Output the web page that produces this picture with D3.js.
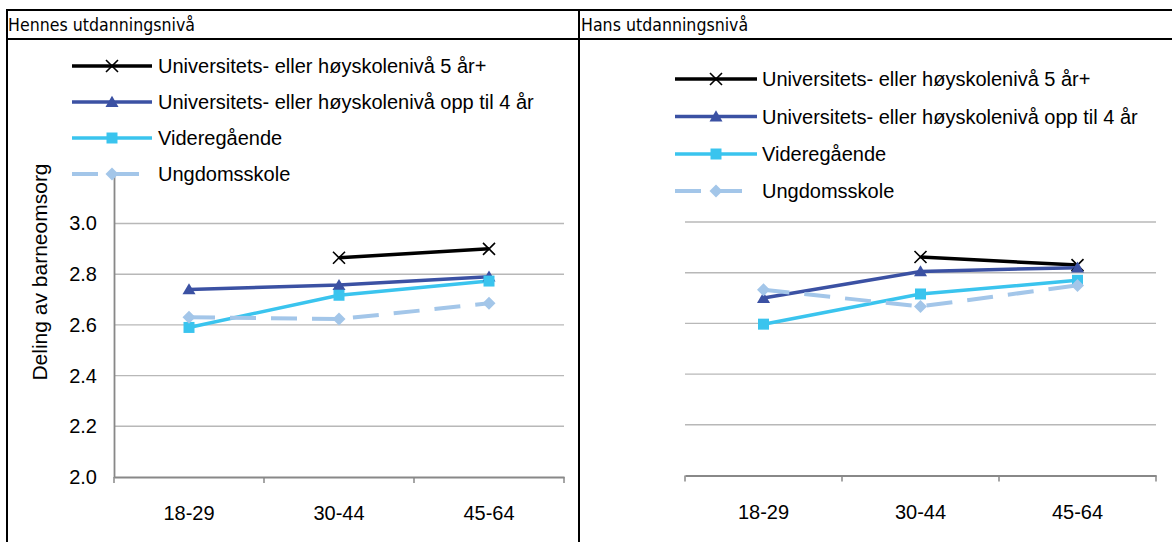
<!DOCTYPE html>
<html><head><meta charset="utf-8">
<script src="https://cdn.jsdelivr.net/npm/d3@7"></script>
<style>body{margin:0;background:#fff}svg{display:block}</style>
</head><body>
<script>
const categories = ["18-29", "30-44", "45-64"];
const seriesNames = [
  "Universitets- eller høyskolenivå 5 år+",
  "Universitets- eller høyskolenivå opp til 4 år",
  "Videregående",
  "Ungdomsskole"
];
const panelTitles = ["Hennes utdanningsnivå", "Hans utdanningsnivå"];
const yTitle = "Deling av barneomsorg";
const yTickValues = [2.0, 2.2, 2.4, 2.6, 2.8, 3.0];

// Hennes utdanningsnivå
const hers5 = [null, 2.865, 2.90];
const hers4 = [2.74, 2.757, 2.79];
const hersVgs = [2.59, 2.717, 2.773];
const hersUng = [2.63, 2.623, 2.685];
// Hans utdanningsnivå
const his5 = [null, 2.862, 2.83];
const his4 = [2.70, 2.805, 2.82];
const hisVgs = [2.597, 2.716, 2.77];
const hisUng = [2.733, 2.667, 2.75];

const colors = ["#000000", "#3B51A3", "#3AC4EE", "#A3C6E9"];
const markers = ["x", "triangle", "square", "diamond"];
const dashes = [null, null, null, "26,15"];

const W = 1172, H = 542;
const svg = d3.select("body").append("svg").attr("width", W).attr("height", H);

// table borders
const border = svg.append("g").attr("stroke", "#000").attr("stroke-width", 2);
border.append("line").attr("x1", 6).attr("x2", W).attr("y1", 10).attr("y2", 10);
border.append("line").attr("x1", 6).attr("x2", W).attr("y1", 39).attr("y2", 39);
border.append("line").attr("x1", 7).attr("x2", 7).attr("y1", 9).attr("y2", H);
border.append("line").attr("x1", 579).attr("x2", 579).attr("y1", 9).attr("y2", H);

const t1 = svg.append("text").attr("x", 8).attr("y", 31).text(panelTitles[0])
  .attr("font-family", "DejaVu Sans").attr("font-size", 17).attr("fill", "#000");
const t2 = svg.append("text").attr("x", 581).attr("y", 31).text(panelTitles[1])
  .attr("font-family", "DejaVu Sans").attr("font-size", 17).attr("fill", "#000");
const n1 = t1.node().getComputedTextLength();
const n2 = t2.node().getComputedTextLength();
const squeeze = 187 / n1;
t1.attr("textLength", n1 * squeeze).attr("lengthAdjust", "spacingAndGlyphs");
t2.attr("textLength", n2 * squeeze).attr("lengthAdjust", "spacingAndGlyphs");

function markerPath(type, s) {
  const h = s / 2;
  if (type === "triangle") return `M0,${-h*0.95}L${h},${h*0.75}L${-h},${h*0.75}Z`;
  if (type === "square") return `M${-h},${-h}H${h}V${h}H${-h}Z`;
  if (type === "diamond") return `M0,${-h}L${h},0L0,${h}L${-h},0Z`;
  return `M${-h},${-h}L${h},${h}M${h},${-h}L${-h},${h}`;
}
function drawMarker(g, type, color, x, y) {
  const sizes = {x: 12, triangle: 13, square: 11, diamond: 13};
  const p = g.append("path").attr("transform", `translate(${x},${y})`).attr("d", markerPath(type, sizes[type]));
  if (type === "x") p.attr("fill", "none").attr("stroke", color).attr("stroke-width", 1.6);
  else p.attr("fill", color).attr("stroke", "none");
}

function drawPanel(opts) {
  const {x0, x1, yBottom, showY, data, legendX0, legendX1, legendTextX, legendY} = opts;
  const g = svg.append("g");
  const x = d3.scaleBand().domain(categories).range([x0, x1]);
  const y = d3.scaleLinear().domain([2.0, 3.2]).range([yBottom, yBottom - 1.2 * 253.5]);

  // gridlines
  g.append("g").selectAll("line").data(yTickValues.filter(v => v > 2.0)).join("line")
    .attr("x1", x0).attr("x2", x1).attr("y1", d => y(d)).attr("y2", d => y(d))
    .attr("stroke", "#B8B8B8").attr("stroke-width", 1.4);

  // x axis
  const xa = g.append("g").attr("transform", `translate(0,${yBottom})`)
    .call(d3.axisBottom(x).tickSize(0).tickPadding(29));
  xa.select(".domain").attr("stroke", "#888").attr("stroke-width", 1.8);
  xa.selectAll("text").attr("font-family", "Liberation Sans, Arial").attr("font-size", 20).attr("fill", "#000");
  // boundary tick marks
  const bounds = categories.map(c => x(c)).concat([x1]);
  g.append("g").selectAll("line").data(bounds).join("line")
    .attr("x1", d => d).attr("x2", d => d).attr("y1", yBottom).attr("y2", yBottom + 6)
    .attr("stroke", "#888").attr("stroke-width", 1.5);

  if (showY) {
    const ya = g.append("g").attr("transform", `translate(${x0},0)`)
      .call(d3.axisLeft(y).tickValues(yTickValues).tickFormat(d3.format(".1f")).tickSize(0).tickPadding(17));
    ya.select(".domain").attr("stroke", "#888").attr("stroke-width", 1.8);
    ya.selectAll("text").attr("font-family", "Liberation Sans, Arial").attr("font-size", 20).attr("fill", "#000");
    g.append("text").attr("transform", `translate(47,${272}) rotate(-90)`).attr("text-anchor", "middle")
      .attr("font-family", "Liberation Sans, Arial").attr("font-size", 21).attr("fill", "#000").text(yTitle);
  }

  // lines
  data.forEach((vals, i) => {
    const pts = vals.map((v, j) => ({c: categories[j], v})).filter(d => d.v != null);
    const line = d3.line().x(d => x(d.c) + x.bandwidth() / 2).y(d => y(d.v));
    const p = g.append("path").datum(pts).attr("d", line).attr("fill", "none")
      .attr("stroke", colors[i]).attr("stroke-width", i === 3 ? 4 : 3.5);
    if (dashes[i]) p.attr("stroke-dasharray", dashes[i]);
  });
  data.forEach((vals, i) => {
    vals.forEach((v, j) => {
      if (v == null) return;
      drawMarker(g, markers[i], colors[i], x(categories[j]) + x.bandwidth() / 2, y(v));
    });
  });

  // legend
  const lg = svg.append("g");
  seriesNames.forEach((name, i) => {
    const ly = legendY[i];
    const l = lg.append("line").attr("x1", legendX0).attr("x2", legendX1).attr("y1", ly).attr("y2", ly)
      .attr("stroke", colors[i]).attr("stroke-width", i === 3 ? 4 : 3.5);
    if (dashes[i]) l.attr("stroke-dasharray", dashes[i]);
    drawMarker(lg, markers[i], colors[i], (legendX0 + legendX1) / 2, ly);
    lg.append("text").attr("x", legendTextX).attr("y", ly).attr("dy", "0.35em")
      .attr("font-family", "Liberation Sans, Arial").attr("font-size", 20).attr("fill", "#000").text(name);
  });
}

drawPanel({x0: 114, x1: 564, yBottom: 477, showY: true,
  data: [hers5, hers4, hersVgs, hersUng],
  legendX0: 72, legendX1: 152, legendTextX: 158, legendY: [66, 102, 138, 174]});
drawPanel({x0: 685, x1: 1156, yBottom: 475.5, showY: false,
  data: [his5, his4, hisVgs, hisUng],
  legendX0: 675, legendX1: 757, legendTextX: 762, legendY: [79, 116.5, 154, 191]});
</script>
</body></html>
